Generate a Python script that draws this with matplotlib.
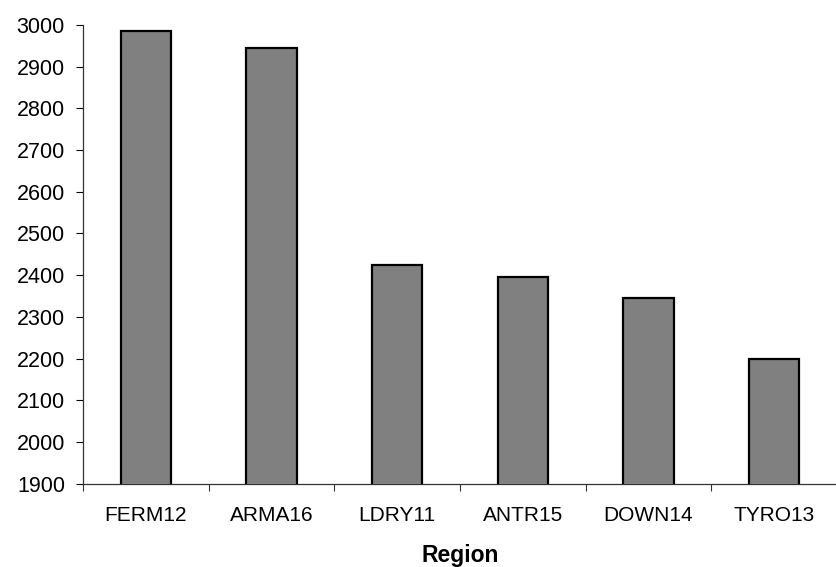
import numpy as np
import matplotlib.pyplot as plt
from matplotlib.ticker import FixedLocator

# region totals
regions = ["FERM12", "ARMA16", "LDRY11", "ANTR15", "DOWN14", "TYRO13"]
values = [2985, 2944, 2424, 2395, 2345, 2199]
y_ticks = list(range(1900, 3001, 100))

plt.rcParams["font.family"] = ["Liberation Sans", "DejaVu Sans"]

fig = plt.figure(figsize=(8.37, 5.67), dpi=100)
ax = fig.add_axes([0.0992, 0.147, 0.9008, 0.809])

x = np.arange(len(regions))
ax.bar(x, values, width=0.4, color="#808080", edgecolor="black",
       linewidth=1.6, zorder=3)

ax.set_xlim(-0.5, len(regions) - 0.5)
ax.set_ylim(1900, 3000)
ax.set_yticks(y_ticks)
ax.tick_params(axis="y", labelsize=15.5, length=5, width=0.8,
               direction="out", pad=8, colors="black")

# labels sit under the bars, tick marks between categories
ax.set_xticks(x)
ax.set_xticklabels(regions)
ax.tick_params(axis="x", which="major", length=0, labelsize=15, pad=16)
ax.xaxis.set_minor_locator(FixedLocator(np.arange(-0.5, len(regions), 1.0)))
ax.tick_params(axis="x", which="minor", length=5, width=0.8,
               direction="out", color="#333333")

for side in ("top", "right"):
    ax.spines[side].set_visible(False)
for side in ("left", "bottom"):
    ax.spines[side].set_linewidth(0.9)
    ax.spines[side].set_color("#333333")

ax.set_xlabel("Region", fontsize=16.5, fontweight="bold", labelpad=14)

fig.savefig("out.png", dpi=100)
